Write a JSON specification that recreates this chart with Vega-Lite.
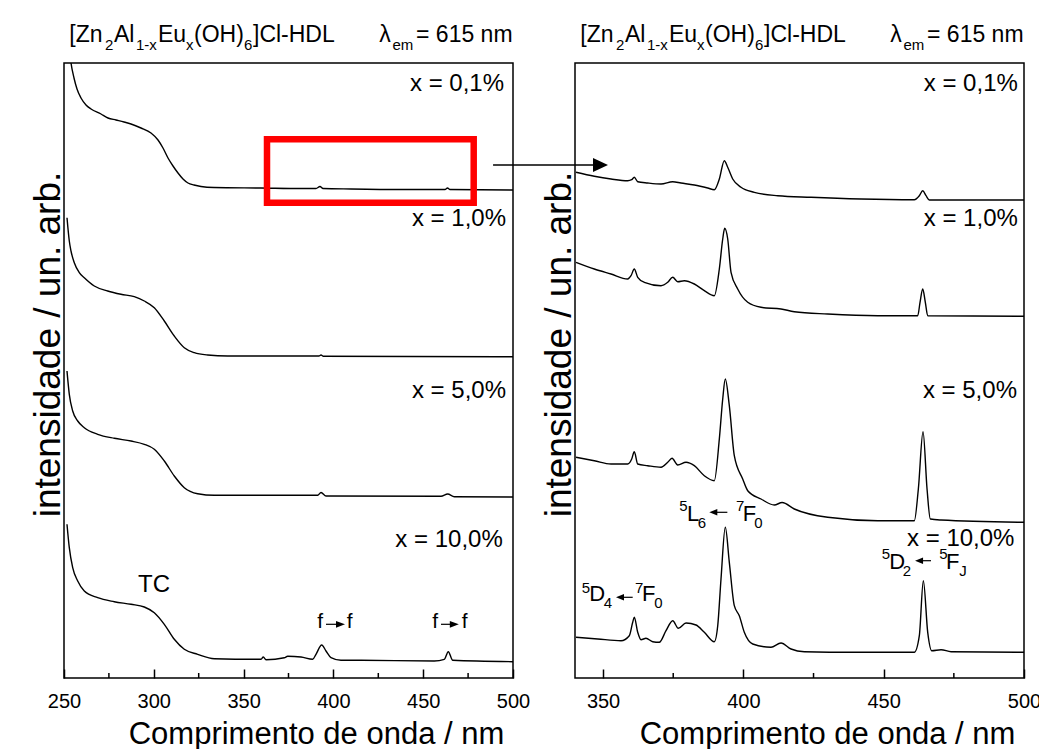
{
  "$schema": "https://vega.github.io/schema/vega-lite/v6.json",
  "background": "white",
  "padding": {"left": 28, "top": 23, "right": 0, "bottom": 0},
  "config": {
    "font": "Liberation Sans",
    "view": {"stroke": "black", "strokeWidth": 1.5},
    "axis": {"labelFont": "Liberation Sans", "titleFont": "Liberation Sans", "titleFontWeight": "normal", "labelColor": "black", "titleColor": "black", "grid": false},
    "text": {"font": "Liberation Sans", "color": "black"}
  },
  "datasets": {
    "uvL": [
      {"s": "0,1%", "w": 251.67, "v": 655}, {"s": "0,1%", "w": 253.9, "v": 615}, {"s": "0,1%", "w": 255.57, "v": 600}, {"s": "0,1%", "w": 257.24, "v": 589}, {"s": "0,1%", "w": 259.47, "v": 580}, {"s": "0,1%", "w": 262.25, "v": 573}, {"s": "0,1%", "w": 265.03, "v": 569}, {"s": "0,1%", "w": 270.6, "v": 564}, {"s": "0,1%", "w": 274.5, "v": 560}, {"s": "0,1%", "w": 278.95, "v": 558}, {"s": "0,1%", "w": 283.41, "v": 556}, {"s": "0,1%", "w": 287.31, "v": 554}, {"s": "0,1%", "w": 292.87, "v": 550}, {"s": "0,1%", "w": 298.44, "v": 545}, {"s": "0,1%", "w": 302.34, "v": 538}, {"s": "0,1%", "w": 305.12, "v": 530}, {"s": "0,1%", "w": 307.91, "v": 520}, {"s": "0,1%", "w": 310.69, "v": 512}, {"s": "0,1%", "w": 313.47, "v": 505}, {"s": "0,1%", "w": 316.26, "v": 499}, {"s": "0,1%", "w": 319.04, "v": 495}, {"s": "0,1%", "w": 322.38, "v": 493}, {"s": "0,1%", "w": 326.28, "v": 491.5}, {"s": "0,1%", "w": 333.52, "v": 490.5}, {"s": "0,1%", "w": 359.69, "v": 490}, {"s": "0,1%", "w": 381.96, "v": 489.5}, {"s": "0,1%", "w": 390.31, "v": 489.5}, {"s": "0,1%", "w": 392.54, "v": 491.5}, {"s": "0,1%", "w": 394.21, "v": 489.5}, {"s": "0,1%", "w": 409.8, "v": 489}, {"s": "0,1%", "w": 437.64, "v": 488.5}, {"s": "0,1%", "w": 462.14, "v": 488.5}, {"s": "0,1%", "w": 463.53, "v": 490}, {"s": "0,1%", "w": 464.92, "v": 488.5}, {"s": "0,1%", "w": 500, "v": 488},
      {"s": "1,0%", "w": 251.67, "v": 460.3}, {"s": "1,0%", "w": 252.95, "v": 437}, {"s": "1,0%", "w": 253.9, "v": 427}, {"s": "1,0%", "w": 255.73, "v": 415.3}, {"s": "1,0%", "w": 258.52, "v": 405.3}, {"s": "1,0%", "w": 261.3, "v": 400.3}, {"s": "1,0%", "w": 266.87, "v": 392}, {"s": "1,0%", "w": 274.33, "v": 387}, {"s": "1,0%", "w": 281.74, "v": 383.7}, {"s": "1,0%", "w": 289.14, "v": 381.3}, {"s": "1,0%", "w": 294.71, "v": 377}, {"s": "1,0%", "w": 300.28, "v": 370.3}, {"s": "1,0%", "w": 305.85, "v": 357}, {"s": "1,0%", "w": 311.41, "v": 342}, {"s": "1,0%", "w": 316.98, "v": 330.3}, {"s": "1,0%", "w": 322.55, "v": 325.3}, {"s": "1,0%", "w": 330.01, "v": 323}, {"s": "1,0%", "w": 341.15, "v": 322}, {"s": "1,0%", "w": 391.98, "v": 322}, {"s": "1,0%", "w": 393.1, "v": 323}, {"s": "1,0%", "w": 394.21, "v": 321.8}, {"s": "1,0%", "w": 500, "v": 321.3},
      {"s": "5,0%", "w": 251.67, "v": 307}, {"s": "5,0%", "w": 252.95, "v": 283.7}, {"s": "5,0%", "w": 254.84, "v": 267}, {"s": "5,0%", "w": 257.63, "v": 257}, {"s": "5,0%", "w": 261.3, "v": 250.3}, {"s": "5,0%", "w": 268.76, "v": 243.7}, {"s": "5,0%", "w": 278.01, "v": 239.7}, {"s": "5,0%", "w": 287.31, "v": 237}, {"s": "5,0%", "w": 294.71, "v": 233.7}, {"s": "5,0%", "w": 300.28, "v": 228.7}, {"s": "5,0%", "w": 305.85, "v": 217}, {"s": "5,0%", "w": 311.41, "v": 202}, {"s": "5,0%", "w": 316.98, "v": 190.3}, {"s": "5,0%", "w": 324.44, "v": 184.3}, {"s": "5,0%", "w": 333.69, "v": 182.7}, {"s": "5,0%", "w": 391.26, "v": 182.7}, {"s": "5,0%", "w": 393.1, "v": 185.5}, {"s": "5,0%", "w": 395.88, "v": 182}, {"s": "5,0%", "w": 459.91, "v": 181.7}, {"s": "5,0%", "w": 463.64, "v": 184}, {"s": "5,0%", "w": 467.32, "v": 181.3}, {"s": "5,0%", "w": 500, "v": 181},
      {"s": "10,0%", "w": 251.67, "v": 153.7}, {"s": "10,0%", "w": 252.95, "v": 130.3}, {"s": "10,0%", "w": 254.84, "v": 110.3}, {"s": "10,0%", "w": 257.63, "v": 97}, {"s": "10,0%", "w": 261.3, "v": 87}, {"s": "10,0%", "w": 268.76, "v": 80.3}, {"s": "10,0%", "w": 278.01, "v": 76.3}, {"s": "10,0%", "w": 287.31, "v": 73.7}, {"s": "10,0%", "w": 294.71, "v": 71}, {"s": "10,0%", "w": 300.28, "v": 65.3}, {"s": "10,0%", "w": 305.85, "v": 53.7}, {"s": "10,0%", "w": 311.41, "v": 38.7}, {"s": "10,0%", "w": 316.98, "v": 28.7}, {"s": "10,0%", "w": 324.44, "v": 23.7}, {"s": "10,0%", "w": 333.69, "v": 19.3}, {"s": "10,0%", "w": 359.69, "v": 18.7}, {"s": "10,0%", "w": 360.97, "v": 21}, {"s": "10,0%", "w": 362.47, "v": 18.3}, {"s": "10,0%", "w": 372.66, "v": 20.3}, {"s": "10,0%", "w": 374.55, "v": 21.7}, {"s": "10,0%", "w": 381.96, "v": 21}, {"s": "10,0%", "w": 388.47, "v": 18.7}, {"s": "10,0%", "w": 390.31, "v": 23.7}, {"s": "10,0%", "w": 393.49, "v": 33}, {"s": "10,0%", "w": 395.88, "v": 27}, {"s": "10,0%", "w": 398.66, "v": 20.3}, {"s": "10,0%", "w": 404.23, "v": 17.7}, {"s": "10,0%", "w": 414.42, "v": 17.7}, {"s": "10,0%", "w": 456.18, "v": 17}, {"s": "10,0%", "w": 461.75, "v": 18.7}, {"s": "10,0%", "w": 463.98, "v": 26.3}, {"s": "10,0%", "w": 466.43, "v": 17.7}, {"s": "10,0%", "w": 500, "v": 16.3}
    ],
    "uvR": [
      {"s": "0,1%", "w": 340.36, "v": 505.7}, {"s": "0,1%", "w": 346.88, "v": 501.7}, {"s": "0,1%", "w": 352.83, "v": 499}, {"s": "0,1%", "w": 358.78, "v": 497.3}, {"s": "0,1%", "w": 360.21, "v": 498.3}, {"s": "0,1%", "w": 361.13, "v": 500.7}, {"s": "0,1%", "w": 362.35, "v": 496.3}, {"s": "0,1%", "w": 365.91, "v": 495}, {"s": "0,1%", "w": 370.65, "v": 494}, {"s": "0,1%", "w": 374.82, "v": 496.3}, {"s": "0,1%", "w": 377.78, "v": 495}, {"s": "0,1%", "w": 382.52, "v": 493}, {"s": "0,1%", "w": 387.29, "v": 490}, {"s": "0,1%", "w": 389.64, "v": 488.3}, {"s": "0,1%", "w": 391.43, "v": 499}, {"s": "0,1%", "w": 393.21, "v": 517.3}, {"s": "0,1%", "w": 394.42, "v": 510.7}, {"s": "0,1%", "w": 396.2, "v": 499}, {"s": "0,1%", "w": 399.16, "v": 490.7}, {"s": "0,1%", "w": 403.9, "v": 485.7}, {"s": "0,1%", "w": 412.24, "v": 482.3}, {"s": "0,1%", "w": 424.11, "v": 480.7}, {"s": "0,1%", "w": 441.93, "v": 479}, {"s": "0,1%", "w": 460.92, "v": 478.3}, {"s": "0,1%", "w": 462.7, "v": 482.3}, {"s": "0,1%", "w": 463.91, "v": 487.3}, {"s": "0,1%", "w": 465.09, "v": 482.3}, {"s": "0,1%", "w": 466.27, "v": 478}, {"s": "0,1%", "w": 500, "v": 478},
      {"s": "1,0%", "w": 340.36, "v": 415.7}, {"s": "1,0%", "w": 346.88, "v": 409}, {"s": "1,0%", "w": 352.83, "v": 404}, {"s": "1,0%", "w": 358.78, "v": 399}, {"s": "1,0%", "w": 359.96, "v": 402.3}, {"s": "1,0%", "w": 361.13, "v": 409}, {"s": "1,0%", "w": 362.35, "v": 400.7}, {"s": "1,0%", "w": 364.7, "v": 395.7}, {"s": "1,0%", "w": 370.65, "v": 392.3}, {"s": "1,0%", "w": 373.04, "v": 395.7}, {"s": "1,0%", "w": 374.82, "v": 400.7}, {"s": "1,0%", "w": 376.6, "v": 396.3}, {"s": "1,0%", "w": 378.95, "v": 397.3}, {"s": "1,0%", "w": 382.52, "v": 394}, {"s": "1,0%", "w": 386.08, "v": 387.3}, {"s": "1,0%", "w": 389.64, "v": 382.3}, {"s": "1,0%", "w": 391.43, "v": 409}, {"s": "1,0%", "w": 392.64, "v": 439}, {"s": "1,0%", "w": 393.35, "v": 449.7}, {"s": "1,0%", "w": 394.42, "v": 439}, {"s": "1,0%", "w": 395.6, "v": 405.7}, {"s": "1,0%", "w": 397.98, "v": 389}, {"s": "1,0%", "w": 401.55, "v": 375.7}, {"s": "1,0%", "w": 406.29, "v": 370.7}, {"s": "1,0%", "w": 413.41, "v": 369}, {"s": "1,0%", "w": 418.15, "v": 366.3}, {"s": "1,0%", "w": 430.06, "v": 364}, {"s": "1,0%", "w": 447.88, "v": 362.3}, {"s": "1,0%", "w": 462.13, "v": 362.3}, {"s": "1,0%", "w": 462.95, "v": 375.7}, {"s": "1,0%", "w": 463.91, "v": 389}, {"s": "1,0%", "w": 464.84, "v": 375.7}, {"s": "1,0%", "w": 465.69, "v": 362.3}, {"s": "1,0%", "w": 500, "v": 361.7},
      {"s": "5,0%", "w": 340.36, "v": 220.7}, {"s": "5,0%", "w": 346.88, "v": 217.3}, {"s": "5,0%", "w": 352.83, "v": 214}, {"s": "5,0%", "w": 358.78, "v": 214}, {"s": "5,0%", "w": 360.21, "v": 219}, {"s": "5,0%", "w": 361.13, "v": 226.3}, {"s": "5,0%", "w": 362.35, "v": 214}, {"s": "5,0%", "w": 365.91, "v": 212.3}, {"s": "5,0%", "w": 370.65, "v": 210.7}, {"s": "5,0%", "w": 373.04, "v": 215.7}, {"s": "5,0%", "w": 374.57, "v": 219.7}, {"s": "5,0%", "w": 376.6, "v": 213}, {"s": "5,0%", "w": 379.56, "v": 215.7}, {"s": "5,0%", "w": 382.52, "v": 212.3}, {"s": "5,0%", "w": 386.08, "v": 202.3}, {"s": "5,0%", "w": 389.64, "v": 197.3}, {"s": "5,0%", "w": 391.43, "v": 239}, {"s": "5,0%", "w": 392.64, "v": 279}, {"s": "5,0%", "w": 393.56, "v": 299}, {"s": "5,0%", "w": 394.99, "v": 272.3}, {"s": "5,0%", "w": 396.77, "v": 222.3}, {"s": "5,0%", "w": 399.76, "v": 199}, {"s": "5,0%", "w": 401.55, "v": 187.3}, {"s": "5,0%", "w": 406.29, "v": 179}, {"s": "5,0%", "w": 411.03, "v": 173}, {"s": "5,0%", "w": 413.8, "v": 175.5}, {"s": "5,0%", "w": 418.15, "v": 169}, {"s": "5,0%", "w": 430.06, "v": 160.7}, {"s": "5,0%", "w": 447.88, "v": 157.3}, {"s": "5,0%", "w": 460.92, "v": 157.3}, {"s": "5,0%", "w": 462.35, "v": 189}, {"s": "5,0%", "w": 464.02, "v": 246.3}, {"s": "5,0%", "w": 465.45, "v": 189}, {"s": "5,0%", "w": 466.62, "v": 159}, {"s": "5,0%", "w": 470.43, "v": 158}, {"s": "5,0%", "w": 500, "v": 155.7},
      {"s": "10,0%", "w": 340.36, "v": 40.7}, {"s": "10,0%", "w": 348.09, "v": 39}, {"s": "10,0%", "w": 356.39, "v": 37.3}, {"s": "10,0%", "w": 359.35, "v": 42.3}, {"s": "10,0%", "w": 360.56, "v": 55.7}, {"s": "10,0%", "w": 361.13, "v": 60.7}, {"s": "10,0%", "w": 362.35, "v": 45.7}, {"s": "10,0%", "w": 363.52, "v": 38.3}, {"s": "10,0%", "w": 365.3, "v": 39.7}, {"s": "10,0%", "w": 367.69, "v": 36.3}, {"s": "10,0%", "w": 370.04, "v": 35.7}, {"s": "10,0%", "w": 372.43, "v": 47.3}, {"s": "10,0%", "w": 374.82, "v": 57.3}, {"s": "10,0%", "w": 376.81, "v": 49.7}, {"s": "10,0%", "w": 379.56, "v": 55}, {"s": "10,0%", "w": 383.12, "v": 53}, {"s": "10,0%", "w": 386.08, "v": 45.7}, {"s": "10,0%", "w": 389.64, "v": 36.3}, {"s": "10,0%", "w": 390.86, "v": 52.3}, {"s": "10,0%", "w": 392.03, "v": 99}, {"s": "10,0%", "w": 393.56, "v": 150.7}, {"s": "10,0%", "w": 394.99, "v": 115.7}, {"s": "10,0%", "w": 396.77, "v": 72.3}, {"s": "10,0%", "w": 398.55, "v": 62.3}, {"s": "10,0%", "w": 400.33, "v": 45.7}, {"s": "10,0%", "w": 403.33, "v": 34}, {"s": "10,0%", "w": 409.85, "v": 30.7}, {"s": "10,0%", "w": 413.41, "v": 35}, {"s": "10,0%", "w": 416.98, "v": 29}, {"s": "10,0%", "w": 421.72, "v": 26.3}, {"s": "10,0%", "w": 439.54, "v": 25.7}, {"s": "10,0%", "w": 460.92, "v": 25.7}, {"s": "10,0%", "w": 462.7, "v": 42.3}, {"s": "10,0%", "w": 464.13, "v": 97.3}, {"s": "10,0%", "w": 465.69, "v": 45.7}, {"s": "10,0%", "w": 467.12, "v": 27.3}, {"s": "10,0%", "w": 470.43, "v": 28.3}, {"s": "10,0%", "w": 474.0, "v": 26.3}, {"s": "10,0%", "w": 500, "v": 25.7}
    ],
    "lblL": [
      {"w": 252.95, "v": 636, "t": "[Zn", "r": "title"},
      {"w": 272.83, "v": 628, "t": "2", "r": "tsub"},
      {"w": 277.84, "v": 636, "t": "Al", "r": "title"},
      {"w": 290.09, "v": 628, "t": "1-x", "r": "tsub"},
      {"w": 302.34, "v": 636, "t": "Eu", "r": "title"},
      {"w": 317.93, "v": 628, "t": "x", "r": "tsub"},
      {"w": 322.38, "v": 636, "t": "(OH)", "r": "title"},
      {"w": 350.22, "v": 628, "t": "6", "r": "tsub"},
      {"w": 355.23, "v": 636, "t": "]Cl-HDL", "r": "title"},
      {"w": 425.56, "v": 636, "t": "λ", "r": "title"},
      {"w": 432.9, "v": 628, "t": "em", "r": "tsub"},
      {"w": 446.0, "v": 636, "t": "= 615 nm", "r": "title"},
      {"w": 495.0, "v": 587, "t": "x = 0,1%", "r": "sample"},
      {"w": 496.1, "v": 452, "t": "x = 1,0%", "r": "sample"},
      {"w": 496.1, "v": 279.7, "t": "x = 5,0%", "r": "sample"},
      {"w": 494.3, "v": 131.3, "t": "x = 10,0%", "r": "sample"},
      {"w": 300.1, "v": 86.3, "t": "TC", "r": "note"},
      {"w": 391.0, "v": 50.3, "t": "f", "r": "f"},
      {"w": 407.4, "v": 50.3, "t": "f", "r": "f"},
      {"w": 455.1, "v": 50.3, "t": "f", "r": "f"},
      {"w": 471.4, "v": 50.3, "t": "f", "r": "f"}
    ],
    "lblR": [
      {"w": 341.89, "v": 636, "t": "[Zn", "r": "title"},
      {"w": 354.61, "v": 628, "t": "2", "r": "tsub"},
      {"w": 357.82, "v": 636, "t": "Al", "r": "title"},
      {"w": 365.66, "v": 628, "t": "1-x", "r": "tsub"},
      {"w": 373.5, "v": 636, "t": "Eu", "r": "title"},
      {"w": 383.48, "v": 628, "t": "x", "r": "tsub"},
      {"w": 386.33, "v": 636, "t": "(OH)", "r": "title"},
      {"w": 404.15, "v": 628, "t": "6", "r": "tsub"},
      {"w": 407.36, "v": 636, "t": "]Cl-HDL", "r": "title"},
      {"w": 452.37, "v": 636, "t": "λ", "r": "title"},
      {"w": 457.07, "v": 628, "t": "em", "r": "tsub"},
      {"w": 465.44, "v": 636, "t": "= 615 nm", "r": "title"},
      {"w": 497.8, "v": 587.3, "t": "x = 0,1%", "r": "sample"},
      {"w": 497.8, "v": 452.3, "t": "x = 1,0%", "r": "sample"},
      {"w": 497.5, "v": 279.7, "t": "x = 5,0%", "r": "sample"},
      {"w": 496.6, "v": 131.7, "t": "x = 10,0%", "r": "sample"},
      {"w": 377.17, "v": 166.6, "t": "5", "r": "small"},
      {"w": 379.91, "v": 157.3, "t": "L", "r": "big"},
      {"w": 383.73, "v": 149.7, "t": "6", "r": "small"},
      {"w": 397.38, "v": 166.6, "t": "7", "r": "small"},
      {"w": 399.76, "v": 157.3, "t": "F", "r": "big"},
      {"w": 403.9, "v": 149.7, "t": "0", "r": "small"},
      {"w": 449.3, "v": 119, "t": "5", "r": "small"},
      {"w": 452.01, "v": 109, "t": "D", "r": "big"},
      {"w": 456.79, "v": 101.7, "t": "2", "r": "small"},
      {"w": 469.83, "v": 119, "t": "5", "r": "small"},
      {"w": 472.22, "v": 109, "t": "F", "r": "big"},
      {"w": 476.96, "v": 101.7, "t": "J", "r": "small"},
      {"w": 342.39, "v": 85, "t": "5", "r": "small"},
      {"w": 345.1, "v": 77.3, "t": "D", "r": "big"},
      {"w": 350.23, "v": 69.7, "t": "4", "r": "small"},
      {"w": 361.38, "v": 85, "t": "7", "r": "small"},
      {"w": 363.88, "v": 77.3, "t": "F", "r": "big"},
      {"w": 368.26, "v": 69.7, "t": "0", "r": "small"}
    ],
    "shaftL": [{"w1": 395.88, "w2": 402.5, "v": 53.7}, {"w1": 459.91, "w2": 466.0, "v": 53.7}],
    "headL": [{"w": 403.95, "v": 53.7}, {"w": 467.32, "v": 53.7}],
    "shaftR": [{"w1": 389.3, "w2": 394.29, "v": 165.7}, {"w1": 462.6, "w2": 466.87, "v": 117.3}, {"w1": 356.04, "w2": 360.56, "v": 80.7}],
    "headR": [{"w": 389.29, "v": 165.7}, {"w": 462.6, "v": 117.3}, {"w": 356.04, "v": 80.7}],
    "minorL": [{"w": 275}, {"w": 325}, {"w": 375}, {"w": 425}, {"w": 475}],
    "minorR": [{"w": 375}, {"w": 425}, {"w": 475}]
  },
  "resolve": {"scale": {"x": "independent", "y": "independent", "size": "independent"}},
  "spacing": 62,
  "bounds": "flush",
  "hconcat": [
    {
      "width": 449,
      "height": 615,
      "layer": [
        {
          "data": {"name": "uvL"},
          "mark": {"type": "line", "clip": true, "color": "black", "strokeWidth": 1.4, "interpolate": "monotone"},
          "encoding": {
            "x": {
              "field": "w", "type": "quantitative",
              "scale": {"domain": [250, 500], "nice": false, "zero": false},
              "axis": {"values": [250, 300, 350, 400, 450, 500], "tickSize": -9, "tickWidth": 1.5, "tickColor": "black", "domain": false, "labelFontSize": 20, "labelPadding": 22, "labelFlush": false, "labelOverlap": false, "title": "Comprimento de onda / nm", "titleFontSize": 31, "titleX": 252, "titleY": 65, "titleBaseline": "alphabetic", "titleAlign": "center"}
            },
            "y": {
              "field": "v", "type": "quantitative",
              "scale": {"domain": [0, 615], "nice": false, "zero": false},
              "axis": {"title": "intensidade / un. arb.", "labels": false, "ticks": false, "domain": false, "titleFontSize": 37, "titleX": -5, "titleY": 281, "titleAngle": 270, "titleBaseline": "alphabetic", "titleAlign": "center"}
            },
            "detail": {"field": "s", "type": "nominal"}
          }
        },
        {
          "data": {"name": "minorL"},
          "mark": {"type": "rule", "color": "black", "strokeWidth": 1.5},
          "encoding": {
            "x": {"field": "w", "type": "quantitative", "scale": {"domain": [250, 500]}},
            "y": {"datum": 0, "type": "quantitative", "scale": {"domain": [0, 615]}},
            "y2": {"datum": 5}
          }
        },
        {
          "data": {"values": [{"w1": 363.03, "w2": 478.12, "v1": 538.7, "v2": 475.3}]},
          "mark": {"type": "rect", "fill": "transparent", "stroke": "#ff0000", "strokeWidth": 6.5},
          "encoding": {
            "x": {"field": "w1", "type": "quantitative"},
            "x2": {"field": "w2"},
            "y": {"field": "v1", "type": "quantitative"},
            "y2": {"field": "v2"}
          }
        },
        {
          "data": {"values": [{"w1": 488.9, "w2": 545.5, "v": 513}]},
          "mark": {"type": "rule", "color": "black", "strokeWidth": 1.5},
          "encoding": {
            "x": {"field": "w1", "type": "quantitative"},
            "x2": {"field": "w2"},
            "y": {"field": "v", "type": "quantitative"}
          }
        },
        {
          "data": {"values": [{"w": 548.72, "v": 513}]},
          "mark": {"type": "point", "shape": "M-1,-0.93L1,0L-1,0.93Z", "size": 225, "filled": true, "color": "black", "opacity": 1, "strokeWidth": 0},
          "encoding": {
            "x": {"field": "w", "type": "quantitative"},
            "y": {"field": "v", "type": "quantitative"}
          }
        },
        {
          "data": {"name": "shaftL"},
          "mark": {"type": "rule", "color": "black", "strokeWidth": 1.2},
          "encoding": {
            "x": {"field": "w1", "type": "quantitative"},
            "x2": {"field": "w2"},
            "y": {"field": "v", "type": "quantitative"}
          }
        },
        {
          "data": {"name": "headL"},
          "mark": {"type": "point", "shape": "M-1,-0.75L1,0L-1,0.75Z", "size": 81, "filled": true, "color": "black", "opacity": 1, "strokeWidth": 0},
          "encoding": {
            "x": {"field": "w", "type": "quantitative"},
            "y": {"field": "v", "type": "quantitative"}
          }
        },
        {
          "data": {"name": "lblL"},
          "transform": [{"filter": "datum.r !== 'sample' && datum.r !== 'note'"}],
          "mark": {"type": "text", "align": "left", "baseline": "alphabetic"},
          "encoding": {
            "x": {"field": "w", "type": "quantitative"},
            "y": {"field": "v", "type": "quantitative"},
            "text": {"field": "t"},
            "size": {"field": "r", "type": "nominal", "scale": {"type": "ordinal", "domain": ["title", "tsub", "sample", "note", "f", "big", "small"], "range": [23, 15, 19, 20, 21, 22, 15]}, "legend": null}
          }
        },
        {
          "data": {"name": "lblL"},
          "transform": [{"filter": "datum.r === 'sample'"}],
          "mark": {"type": "text", "align": "right", "baseline": "alphabetic"},
          "encoding": {
            "x": {"field": "w", "type": "quantitative"},
            "y": {"field": "v", "type": "quantitative"},
            "text": {"field": "t"},
            "size": {"field": "r", "type": "nominal", "legend": null}
          }
        },
        {
          "data": {"name": "lblL"},
          "transform": [{"filter": "datum.r === 'note'"}],
          "mark": {"type": "text", "align": "center", "baseline": "alphabetic"},
          "encoding": {
            "x": {"field": "w", "type": "quantitative"},
            "y": {"field": "v", "type": "quantitative"},
            "text": {"field": "t"},
            "size": {"field": "r", "type": "nominal", "legend": null}
          }
        }
      ]
    },
    {
      "width": 449,
      "height": 615,
      "layer": [
        {
          "data": {"name": "uvR"},
          "mark": {"type": "line", "clip": true, "color": "black", "strokeWidth": 1.4, "interpolate": "monotone"},
          "encoding": {
            "x": {
              "field": "w", "type": "quantitative",
              "scale": {"domain": [340, 500], "nice": false, "zero": false},
              "axis": {"values": [350, 400, 450, 500], "tickSize": -9, "tickWidth": 1.5, "tickColor": "black", "domain": false, "labelFontSize": 20, "labelPadding": 22, "labelFlush": false, "labelOverlap": false, "title": "Comprimento de onda / nm", "titleFontSize": 31, "titleX": 252, "titleY": 65, "titleBaseline": "alphabetic", "titleAlign": "center"}
            },
            "y": {
              "field": "v", "type": "quantitative",
              "scale": {"domain": [0, 615], "nice": false, "zero": false},
              "axis": {"title": "intensidade / un. arb.", "labels": false, "ticks": false, "domain": false, "titleFontSize": 37, "titleX": -5, "titleY": 281, "titleAngle": 270, "titleBaseline": "alphabetic", "titleAlign": "center"}
            },
            "detail": {"field": "s", "type": "nominal"}
          }
        },
        {
          "data": {"name": "minorR"},
          "mark": {"type": "rule", "color": "black", "strokeWidth": 1.5},
          "encoding": {
            "x": {"field": "w", "type": "quantitative", "scale": {"domain": [340, 500]}},
            "y": {"datum": 0, "type": "quantitative", "scale": {"domain": [0, 615]}},
            "y2": {"datum": 5}
          }
        },
        {
          "data": {"name": "shaftR"},
          "mark": {"type": "rule", "color": "black", "strokeWidth": 1.2},
          "encoding": {
            "x": {"field": "w1", "type": "quantitative"},
            "x2": {"field": "w2"},
            "y": {"field": "v", "type": "quantitative"}
          }
        },
        {
          "data": {"name": "headR"},
          "mark": {"type": "point", "shape": "M1,-0.8L-1,0L1,0.8Z", "size": 64, "filled": true, "color": "black", "opacity": 1, "strokeWidth": 0},
          "encoding": {
            "x": {"field": "w", "type": "quantitative"},
            "y": {"field": "v", "type": "quantitative"}
          }
        },
        {
          "data": {"name": "lblR"},
          "transform": [{"filter": "datum.r !== 'sample'"}],
          "mark": {"type": "text", "align": "left", "baseline": "alphabetic"},
          "encoding": {
            "x": {"field": "w", "type": "quantitative"},
            "y": {"field": "v", "type": "quantitative"},
            "text": {"field": "t"},
            "size": {"field": "r", "type": "nominal", "scale": {"type": "ordinal", "domain": ["title", "tsub", "sample", "note", "f", "big", "small"], "range": [23, 15, 19, 20, 21, 22, 15]}, "legend": null}
          }
        },
        {
          "data": {"name": "lblR"},
          "transform": [{"filter": "datum.r === 'sample'"}],
          "mark": {"type": "text", "align": "right", "baseline": "alphabetic"},
          "encoding": {
            "x": {"field": "w", "type": "quantitative"},
            "y": {"field": "v", "type": "quantitative"},
            "text": {"field": "t"},
            "size": {"field": "r", "type": "nominal", "legend": null}
          }
        }
      ]
    }
  ]
}
